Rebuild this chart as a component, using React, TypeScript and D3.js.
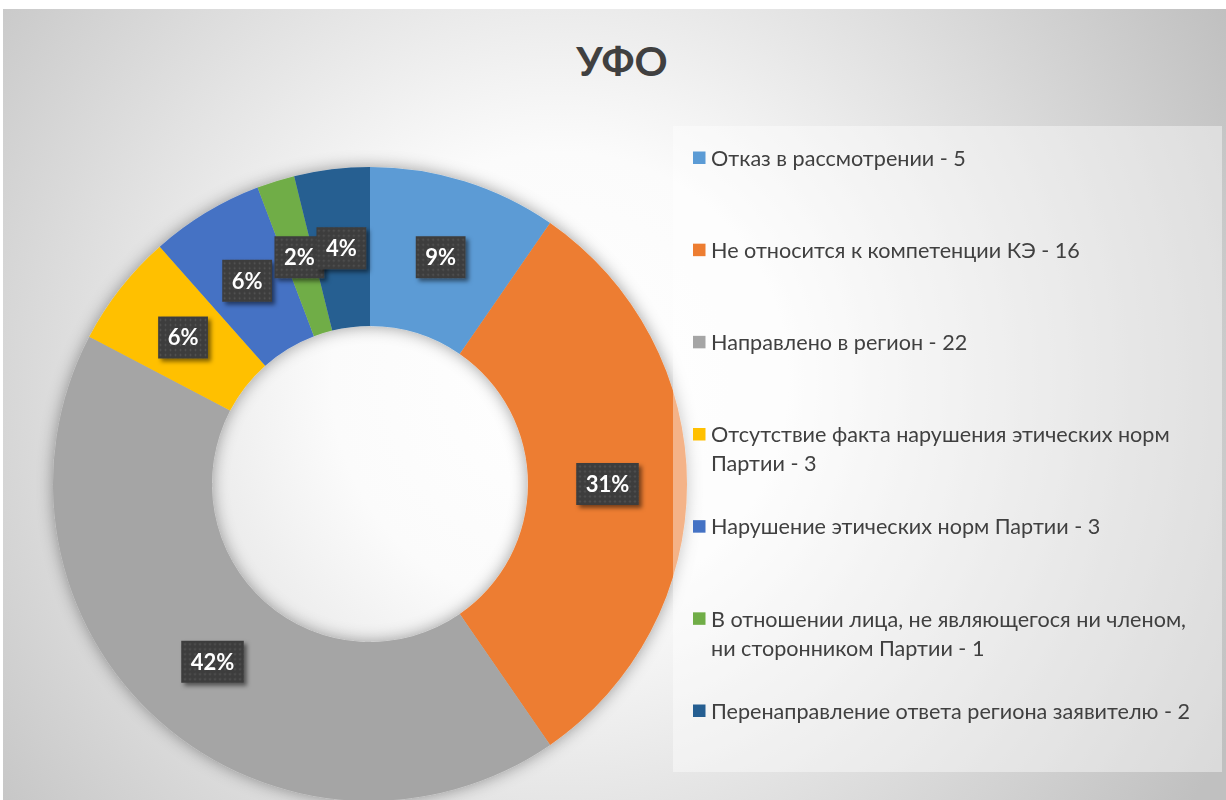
import * as d3 from 'd3';
import * as React from 'react';

// chart data
const title = 'УФО';
const categories = [
    'Отказ в рассмотрении',
    'Не относится к компетенции КЭ',
    'Направлено в регион',
    'Отсутствие факта нарушения этических норм\nПартии',
    'Нарушение этических норм Партии',
    'В отношении лица, не являющегося ни членом,\nни сторонником Партии',
    'Перенаправление ответа региона заявителю',
];
const values = [5, 16, 22, 3, 3, 1, 2];
const percentLabels = ['9%', '31%', '42%', '6%', '6%', '2%', '4%'];
const colors = ['#5B9BD5', '#ED7D31', '#A5A5A5', '#FFC000', '#4472C4', '#70AD47', '#255E91'];

const width = 1226;
const height = 800;
const cx = 370;
const cy = 484;
const outerR = 317;
const innerR = 158;

const labelFont = 'bold 22px Lato';

let ctx: CanvasRenderingContext2D | null = null;
function measure(text: string, font: string) {
    if (!ctx) ctx = document.createElement('canvas').getContext('2d');
    if (!ctx) return text.length * 11;
    ctx.font = font;
    return ctx.measureText(text).width;
}

export default function App() {
    const pie = d3.pie<number>().sort(null).value(d => d);
    const arcs = pie(values);
    const arc = d3.arc<d3.PieArcDatum<number>>().innerRadius(innerR).outerRadius(outerR);

    // legend rows are spaced evenly by first line
    const legendY = d3.scaleLinear().domain([0, categories.length - 1]).range([158, 711]);

    return (
        <svg width={width} height={height} style={{ position: 'absolute', left: 0, top: 0 }}
            fontFamily="Lato, 'Open Sans', sans-serif">
            <defs>
                <radialGradient id="bg" cx="560" cy="380" r="760" gradientUnits="userSpaceOnUse">
                    <stop offset="0" stopColor="#ffffff" />
                    <stop offset="0.3" stopColor="#fbfbfb" />
                    <stop offset="1" stopColor="#c0c0c0" />
                </radialGradient>
                <filter id="ringShadow" x="-20%" y="-20%" width="140%" height="140%">
                    <feDropShadow dx="0" dy="0" stdDeviation="8" floodColor="#000" floodOpacity="0.38" />
                </filter>
                <filter id="boxShadow" x="-30%" y="-30%" width="170%" height="170%">
                    <feDropShadow dx="3" dy="3" stdDeviation="2" floodColor="#000" floodOpacity="0.5" />
                </filter>
                <pattern id="dots" width="5" height="5" patternUnits="userSpaceOnUse">
                    <rect width="5" height="5" fill="#3d3d3d" />
                    <circle cx="2.5" cy="2.5" r="0.9" fill="#575757" />
                </pattern>
            </defs>

            <rect x={0} y={0} width={width} height={height} fill="#ffffff" />
            <rect x={3} y={9} width={width - 3} height={height - 9} fill="url(#bg)" />

            <text x={622} y={76} textAnchor="middle" fontSize={41} fontWeight="bold" fill="#404040">
                {title}
            </text>

            <g filter="url(#ringShadow)">
                {arcs.map((a, i) => (
                    <path key={i} d={arc(a) || ''} transform={`translate(${cx},${cy})`} fill={colors[i]} />
                ))}
            </g>

            {/* legend panel sits on top of the ring */}
            <rect x={673} y={126} width={549} height={646} fill="#ffffff" fillOpacity={0.42} />

            {arcs.map((a, i) => {
                const [x, y] = arc.centroid(a);
                const w = measure(percentLabels[i], labelFont) + 19;
                const h = 42;
                return (
                    <g key={i} transform={`translate(${cx + x},${cy + y})`}>
                        <rect x={-w / 2} y={-h / 2} width={w} height={h} fill="url(#dots)"
                            filter="url(#boxShadow)" />
                        <text textAnchor="middle" dy="0.36em" fontSize={22} fontWeight="bold" fill="#ffffff">
                            {percentLabels[i]}
                        </text>
                    </g>
                );
            })}

            {categories.map((c, i) => {
                const lines = c.split('\n');
                lines[lines.length - 1] += ' - ' + values[i];
                const y0 = legendY(i);
                return (
                    <g key={i}>
                        <rect x={693} y={y0 - 6.5} width={12.5} height={12.5} fill={colors[i]} />
                        {lines.map((l, j) => (
                            <text key={j} x={711} y={y0 + j * 29} dy="0.36em" fontSize={21.6} fill="#404040">
                                {l}
                            </text>
                        ))}
                    </g>
                );
            })}
        </svg>
    );
}
